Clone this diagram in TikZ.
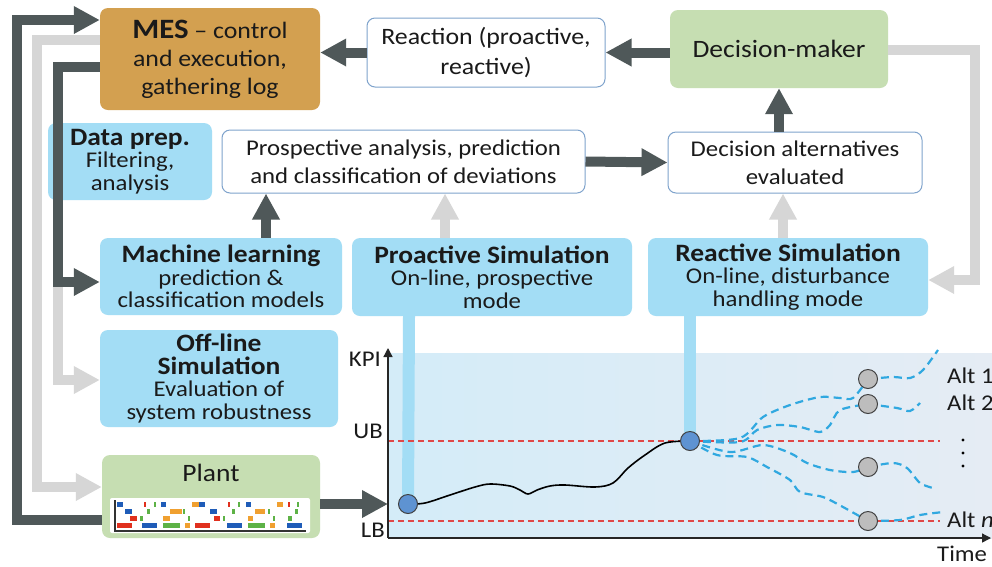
\documentclass[tikz,border=0pt]{standalone}
\usepackage{fontspec}
\setmainfont{Carlito}[FakeStretch=1.1]
\usetikzlibrary{arrows.meta,backgrounds,calc}
\definecolor{mesc}{HTML}{D3A050}
\definecolor{dmgreen}{HTML}{C6DEB2}
\definecolor{skyb}{HTML}{A3DDF5}
\definecolor{darkc}{HTML}{4F5859}
\definecolor{lightc}{HTML}{D6D6D6}
\definecolor{bordc}{HTML}{7FA3CC}
\definecolor{txtc}{HTML}{1A1A1A}
\definecolor{dashb}{HTML}{30A8E0}
\definecolor{redd}{HTML}{E04848}
\definecolor{cblue}{HTML}{5E93D2}
\definecolor{cgrey}{HTML}{BDBDBD}
\definecolor{gblue}{HTML}{1F5CB8}
\definecolor{gred}{HTML}{E0301E}
\definecolor{ggreen}{HTML}{5DB246}
\definecolor{gorange}{HTML}{F0A030}
\definecolor{bgl}{HTML}{D4ECF8}
\definecolor{bgr}{HTML}{E5ECF4}
\newcommand\gbar[4]{\fill[#1] (#2,#4-2.5) rectangle (#3,#4+2.5);}
\newcommand\ttl[1]{{\fontsize{25}{23}\selectfont\bfseries #1}}
\begin{document}
\begin{tikzpicture}[x=1pt,y=-1pt,
  font=\fontsize{22.5}{28}\selectfont, text=txtc,
  box/.style={rounded corners=8pt, align=center, inner sep=0pt, anchor=center},
  wbox/.style={box, draw=bordc, line width=1pt, fill=white},
  bbox/.style={box, fill=skyb, font=\fontsize{22.5}{22.5}\selectfont},
  darr/.style={draw=darkc, line width=10pt, line join=miter, -{Triangle[length=26pt,width=26pt]}},
  larr/.style={draw=lightc, line width=10pt, line join=miter, -{Triangle[length=26pt,width=26pt]}},
  bluec/.style={circle, draw=black!75, fill=cblue, minimum size=19pt, inner sep=0pt, line width=1pt},
  greyc/.style={circle, draw=black!75, fill=cgrey, minimum size=19pt, inner sep=0pt, line width=1pt},
  dashcurve/.style={draw=dashb, line width=2.2pt, dash pattern=on 8pt off 5pt},
  lbl/.style={inner sep=0pt}
]
\useasboundingbox (0,0) rectangle (992,566);

% boxes
\node[box, fill=mesc, minimum width=220pt, minimum height=102pt, font=\fontsize{23.5}{28}\selectfont] (mes) at (210,59)
  {{\fontsize{28}{28}\selectfont\bfseries MES} -- control\\and execution,\\gathering log};
\node[wbox, minimum width=238pt, minimum height=69pt, font=\fontsize{23.5}{30}\selectfont] (react) at (486,52.5)
  {Reaction (proactive,\\reactive)};
\node[box, fill=dmgreen, minimum width=218pt, minimum height=78pt, font=\fontsize{25}{28}\selectfont] (dm) at (779,49)
  {Decision-maker};
\node[wbox, minimum width=254pt, minimum height=61pt] (dalt) at (795,162.5)
  {Decision alternatives\\evaluated};
\node[wbox, minimum width=363pt, minimum height=63pt] (prosp) at (403.5,161.5)
  {Prospective analysis, prediction\\and classification of deviations};
\node[bbox, minimum width=164pt, minimum height=77pt] (dprep) at (130,161.5)
  {\ttl{Data prep.}\\Filtering,\\analysis};
\node[bbox, minimum width=242pt, minimum height=77pt] (ml) at (221,276.5)
  {\ttl{Machine learning}\\prediction \&\\classification models};
\node[bbox, minimum width=280pt, minimum height=78pt] (proact) at (492,277)
  {\ttl{Proactive Simulation}\\On-line, prospective\\mode};
\node[bbox, minimum width=280pt, minimum height=78pt] (reactsim) at (788,277)
  {\ttl{Reactive Simulation}\\On-line, disturbance\\handling mode};
\node[bbox, minimum width=238pt, minimum height=97pt] (offline) at (219,378.5)
  {\ttl{Off-line}\\\ttl{Simulation}\\Evaluation of\\system robustness};
\node[box, fill=dmgreen, minimum width=218pt, minimum height=83pt] (plant) at (211,496.5) {};
\node[lbl, font=\fontsize{25}{28}\selectfont] (plantlbl) at (211,473) {Plant};

% gantt inside plant
\fill[white, rounded corners=2pt] (110,498) rectangle (310,533);
\draw[black!80, line width=1.2pt] (115,500) -- (115,531) -- (306,531);
\gbar{gblue}{117}{123}{504}\gbar{gred}{144}{146}{504}\gbar{ggreen}{154}{156}{504}\gbar{gblue}{161}{166}{504}
\gbar{gorange}{192}{199}{504}\gbar{gblue}{199}{205}{504}\gbar{gred}{228}{230}{504}\gbar{ggreen}{238}{240}{504}
\gbar{gblue}{246}{251}{504}\gbar{gorange}{277}{283}{504}\gbar{gred}{288}{290}{504}\gbar{ggreen}{297}{299}{504}
\gbar{gblue}{125}{132}{511}\gbar{ggreen}{147}{150}{511}\gbar{gorange}{170}{182}{511}\gbar{ggreen}{183}{185}{511}
\gbar{gblue}{210}{217}{511}\gbar{ggreen}{232}{235}{511}\gbar{gorange}{255}{265}{511}\gbar{ggreen}{268}{270}{511}
\gbar{ggreen}{295}{298}{511}
\gbar{gred}{130}{137}{518}\gbar{ggreen}{140}{143}{518}\gbar{gorange}{163}{170}{518}\gbar{ggreen}{188}{190}{518}
\gbar{gred}{214}{220}{518}\gbar{ggreen}{223}{225}{518}\gbar{gorange}{248}{253}{518}\gbar{ggreen}{273}{275}{518}
\gbar{ggreen}{288}{292}{518}
\gbar{gred}{117}{132}{525}\gbar{gblue}{142}{157}{525}\gbar{ggreen}{163}{180}{525}\gbar{gorange}{185}{190}{525}
\gbar{gred}{195}{210}{525}\gbar{gblue}{227}{242}{525}\gbar{ggreen}{248}{265}{525}\gbar{gorange}{270}{275}{525}
\gbar{gblue}{287}{302}{525}

% chart coordinates and circles
\coordinate (O) at (388,538);
\coordinate (ytop) at (388,348);
\coordinate (xend) at (991,538);
\coordinate (yax) at (388,504);
\node[bluec] (c1) at (408,504) {};
\node[bluec] (c2) at (690,441) {};
\node[greyc] (g1) at (868,379) {};
\node[greyc] (g2) at (868,404) {};
\node[greyc] (g3) at (868,467) {};
\node[greyc] (g4) at (868,521) {};

\begin{scope}[on background layer]
  \fill[white] (0,0) rectangle (992,566);
  \shade[left color=bgl, right color=bgr] (388,353) rectangle (992,538);
  \draw[skyb, line width=12pt] (409,0 |- proact.south) -- (c1.center);
  \draw[skyb, line width=12pt] (690,0 |- reactsim.south) -- (c2.center);
  \draw[redd, line width=1.6pt, dash pattern=on 6pt off 4pt] (388,441) -- (940,441);
  \draw[redd, line width=1.6pt, dash pattern=on 6pt off 4pt] (388,521) -- (940,521);
  \draw[black!85, line width=1.3pt, -{Triangle[length=9pt,width=9pt]}] (O) -- (ytop);
  \draw[black!85, line width=1.3pt, -{Triangle[length=9pt,width=9pt]}] (O) -- (xend);
  \draw[black, line width=1.6pt] plot[smooth, tension=0.55] coordinates {(c1.center) (425,503) (450,495) (475,487) (490,484) (510,486) (520,490) (528,494) (537,490) (550,486) (565,485) (595,487) (613,483) (628,468) (645,455) (665,443) (c2.center)};
  \draw[dashcurve] plot[smooth] coordinates {(c2.center) (740,438) (763,417) (790,405) (820,397) (840,398) (853,398) (g1.center)};
  \draw[dashcurve] plot[smooth] coordinates {(c2.center) (740,442) (757,430) (777,425) (800,427) (820,432) (830,425) (840,410) (g2.center)};
  \draw[dashcurve] plot[smooth] coordinates {(c2.center) (730,452) (763,445) (790,453) (807,463) (830,470) (853,472) (g3.center)};
  \draw[dashcurve] plot[smooth] coordinates {(c2.center) (717,455) (747,457) (767,467) (790,480) (800,492) (823,497) (843,507) (g4.center)};
  \draw[dashcurve] plot[smooth] coordinates {(g1.center) (893,377) (910,378) (923,370) (938,350)};
  \draw[dashcurve] plot[smooth] coordinates {(g2.center) (897,408) (910,411) (920,403)};
  \draw[dashcurve] plot[smooth] coordinates {(g3.center) (893,463) (907,468) (920,483) (933,488)};
  \draw[dashcurve] plot[smooth] coordinates {(g4.center) (900,520) (920,515) (943,512)};
\end{scope}

% chart labels
\node[lbl, anchor=base east] (kpi) at (381,366) {KPI};
\node[lbl, anchor=base east] (ub) at (383,438) {UB};
\node[lbl, anchor=base east] (lb) at (385,537) {LB};
\node[lbl, anchor=base west] (time) at (937,561) {Time};
\node[lbl, anchor=base west] (alt1) at (947,383) {Alt 1};
\node[lbl, anchor=base west] (alt2) at (947,410) {Alt 2};
\node[lbl, anchor=base west] (altn) at (947,527) {Alt \textit{n}};
\fill[black] (963,440) circle (1.6pt) (963,453) circle (1.6pt) (963,466) circle (1.6pt);

% connectors
\draw[larr] (mes.west |- 0,40) -- (37,40) -- (37,487) -- (plant.west |- 0,487);
\draw[darr] (plant.west |- 0,520) -- (17,520) -- (17,20) -- (mes.west |- 0,20);
\coordinate (branch) at (58,282);
\draw[larr] (branch) -- (58,380) -- (offline.west |- 0,380);
\draw[darr] (mes.west |- 0,67) -- (58,67) -- (branch) -- (ml.west |- branch);
\draw[darr] (dm.west |- react.east) -- (react.east);
\draw[darr] (react.west) -- (mes.east |- react.west);
\draw[darr] (dalt.north -| dm.south) -- (dm.south);
\draw[darr] (prosp.east) -- (dalt.west);
\draw[darr] (266,0 |- ml.north) -- (266,0 |- prosp.south);
\draw[larr] (445,0 |- proact.north) -- (445,0 |- prosp.south);
\draw[larr] (783,0 |- reactsim.north) -- (783,0 |- dalt.south);
\draw[larr] (dm.east |- 0,50) -- (975,50) -- (975,280) -- (reactsim.east |- 0,280);
\draw[darr] (plant.east |- yax) -- (yax);
\end{tikzpicture}
\end{document}
